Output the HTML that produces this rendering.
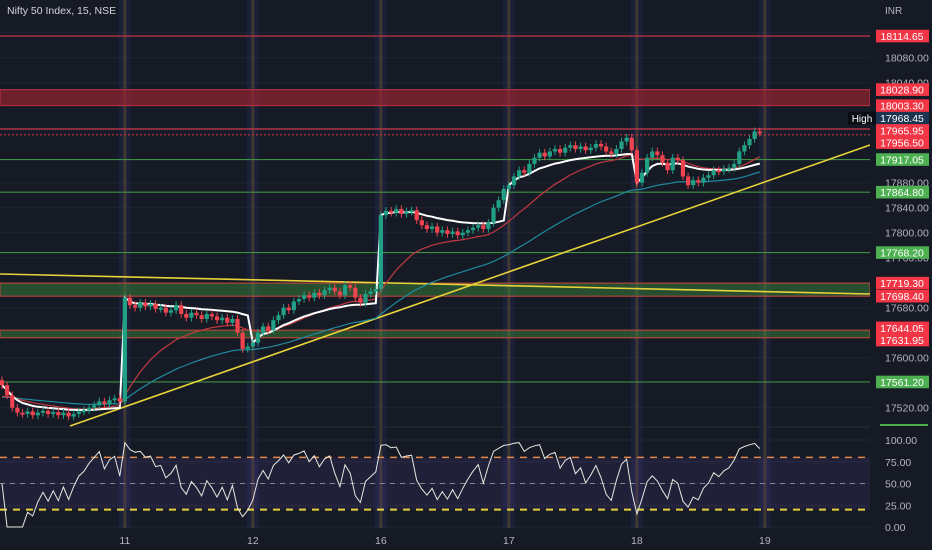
<!DOCTYPE html>
<html><head><meta charset="utf-8">
<style>
html,body{margin:0;padding:0;background:#151924;}
svg{display:block;font-family:"Liberation Sans",sans-serif;}
</style></head>
<body>
<svg id="c" width="932" height="550" viewBox="0 0 932 550"></svg>
<script>
// ---- data ----
const dayLabels = ["11","12","16","17","18","19"];
const dayStartIdx = [24,49,74,99,124,149];
const closes = [
17556,17540,17520,17512,17510,17514,17508,17512,17515,17510,17513,17508,17512,17506,17510,17514,17516,17520,17524,17530,17526,17532,17535,17530,
17696,17684,17680,17688,17682,17686,17678,17680,17672,17676,17684,17670,17664,17672,17668,17662,17670,17666,17660,17664,17656,17662,17640,17614,17618,
17624,17640,17650,17644,17660,17668,17680,17676,17690,17694,17700,17696,17704,17700,17708,17712,17706,17700,17716,17712,17696,17688,17702,17706,17710,
17828,17835,17832,17838,17830,17834,17836,17820,17812,17806,17810,17800,17804,17798,17802,17796,17800,17804,17808,17812,17806,17816,17840,17852,17870,
17876,17890,17900,17896,17910,17920,17928,17922,17930,17934,17928,17936,17940,17934,17938,17932,17936,17942,17938,17930,17926,17934,17946,17952,17932,
17880,17896,17920,17930,17924,17912,17900,17920,17916,17890,17876,17884,17880,17888,17892,17900,17898,17902,17904,17910,17930,17940,17950,17962,17960];
const redLevels = [18114.65,17965.95];
const greenLevels = [17917.05,17864.80,17768.20,17561.20];
const redBand = [18028.90,18003.30];
const greenBands = [[17719.30,17698.40],[17644.05,17631.95]];
const axisTicks = [18080,18040,17880,17840,17800,17760,17680,17600,17520];
const rsiTicks = [100,75,50,25,0];
const tagPrices = [18114.65,18028.90,18003.30,17968.45,17965.95,17956.50,17917.05,17864.80,17768.20,17719.30,17698.40,17644.05,17631.95,17561.20];
const tagKinds  = ["r","r","r","h","r","r","g","g","g","r","r","r","r","g"];

// ---- scales ----
const y = p => 57.7 + (18080 - p) * 0.625;
const x = i => 2 + i * 5.12;
const ry = v => 527 - v * 0.87;
const svg = document.getElementById('c');
const NS = 'http://www.w3.org/2000/svg';
function mk(tag, attrs, parent) {
  const e = document.createElementNS(NS, tag);
  for (const k in attrs) e.setAttribute(k, attrs[k]);
  (parent || svg).appendChild(e);
  return e;
}
mk('rect',{x:0,y:0,width:932,height:550,fill:'#161a25'});
// grid
axisTicks.forEach(t=>{const l=mk('line',{x1:0,x2:870,y1:y(t),y2:y(t),stroke:'#212532'});

});
mk('line',{x1:0,x2:870,y1:y(18120),y2:y(18120),stroke:'#212532'});
rsiTicks.forEach(t=>mk('line',{x1:0,x2:870,y1:ry(t),y2:ry(t),stroke:'#212532'}));
// session dividers
dayStartIdx.forEach(i=>{const xx=x(i);
const b=mk('rect',{x:xx-6,y:0,width:12,height:528,fill:'rgba(35,50,110,0.25)'});


mk('line',{x1:xx,x2:xx,y1:0,y2:528,stroke:'rgba(75,62,50,0.8)','stroke-width':3});});
// bands
const rb=mk('rect',{x:0,y:y(redBand[0]),width:870,height:y(redBand[1])-y(redBand[0]),fill:'rgba(150,35,48,0.7)',stroke:'#c0303f'});


greenBands.forEach(b=>{const r=mk('rect',{x:0,y:y(b[0]),width:870,height:y(b[1])-y(b[0]),fill:'rgba(55,130,55,0.5)',stroke:'#b0453a','stroke-width':1.2});

});
redLevels.forEach(p=>{const l=mk('line',{x1:0,x2:870,y1:y(p),y2:y(p),stroke:'#d0394a','stroke-width':1.2});

});
mk('line',{x1:0,x2:870,y1:y(17956.5),y2:y(17956.5),stroke:'#d0394a','stroke-dasharray':'2 2'});
greenLevels.forEach(p=>{const l=mk('line',{x1:0,x2:870,y1:y(p),y2:y(p),stroke:'#3f8f45','stroke-width':1.2});

});
// trendlines
const t1=mk('line',{x1:0,y1:274,x2:870,y2:294,stroke:'#e8d43a','stroke-width':1.6});


const t2=mk('line',{x1:70,y1:426,x2:870,y2:145,stroke:'#e8d43a','stroke-width':1.6});


// moving averages
function ema(n){let o=[],k=2/(n+1),v=closes[0]-20;closes.forEach(c=>{v=v+k*(c-v);o.push(v);});return o;}
function pathOf(arr,fy){return arr.map((v,i)=>(i?'L':'M')+x(i).toFixed(1)+' '+fy(v).toFixed(1)).join(' ');}
const e1=mk('path',{d:pathOf(ema(50),y),fill:'none',stroke:'#1f8a9e','stroke-width':1.2});


const e2=mk('path',{d:pathOf(ema(20),y),fill:'none',stroke:'#c23a40','stroke-width':1.2});


// session vwap
const vw=[];let s=0,n=0,di=0;
closes.forEach((c,i)=>{if(i===dayStartIdx[di]){s=0;n=0;di++;}s+=c;n++;vw.push(s/n);});
const vwp=mk('path',{d:pathOf(vw,y),fill:'none',stroke:'#ffffff','stroke-width':2});


// candles
closes.forEach((c,i)=>{
  const o=i?closes[i-1]:c+8; const up=c>=o; const col=up?'#22a085':'#ef4350';
  const hi=Math.max(o,c)+6, lo=Math.min(o,c)-6;
  const g=mk('g',{});
  
  
  mk('line',{x1:x(i),x2:x(i),y1:y(hi),y2:y(lo),stroke:col},g);
  const top=y(Math.max(o,c)),h=Math.max(2,y(Math.min(o,c))-top);
  mk('rect',{x:x(i)-2.1,y:top,width:4.2,height:h,fill:col},g);
});
// RSI pane
mk('line',{x1:0,x2:932,y1:427,y2:427,stroke:'#2a2e39'});
mk('rect',{x:0,y:ry(80),width:870,height:ry(20)-ry(80),fill:'rgba(80,60,140,0.2)'});
mk('line',{x1:0,x2:870,y1:ry(80),y2:ry(80),stroke:'#e0884a','stroke-width':1.5,'stroke-dasharray':'7 6'});
mk('line',{x1:0,x2:870,y1:ry(50),y2:ry(50),stroke:'#888','stroke-dasharray':'5 5'});
mk('line',{x1:0,x2:870,y1:ry(20),y2:ry(20),stroke:'#e8d43a','stroke-width':2,'stroke-dasharray':'7 6'});
function rsi(n){let g=0,l=0,o=[50];for(let i=1;i<closes.length;i++){const d=closes[i]-closes[i-1];g=(g*(n-1)+Math.max(d,0))/n;l=(l*(n-1)+Math.max(-d,0))/n;o.push(l===0?100:100-100/(1+g/l));}return o;}
const rp=mk('path',{d:pathOf(rsi(4),ry),fill:'none',stroke:'#e8e8e0','stroke-width':1});


// axis
mk('rect',{x:870,y:0,width:62,height:550,fill:'#161a25'});
mk('line',{x1:880,x2:928,y1:425,y2:425,stroke:'#4caf50','stroke-width':2});
function txt(t,xx,yy,col,size,anchor,name){const e=mk('text',{x:xx,y:yy,fill:col,'font-size':size,'text-anchor':anchor||'start'});e.textContent=t;

return e;}
txt('INR',885,14,'#b2b5be',10,'start','currency-label');
axisTicks.forEach(t=>txt(t.toFixed(2),885,y(t)+4,'#b2b5be',10.5,'start','price-tick'));
rsiTicks.forEach(t=>txt(t.toFixed(2),885,ry(t)+4,'#b2b5be',10.5,'start','rsi-tick'));
// tags: cluster-based collision avoidance (groups centred on their mean)
const GAP=12.2;
let groups=tagPrices.map((p,k)=>({c:y(p),idx:[k]}));
let changed=true;
while(changed){changed=false;
  for(let k=0;k<groups.length-1;k++){
    const a=groups[k],b=groups[k+1];
    const aBot=a.c+(a.idx.length-1)*GAP/2, bTop=b.c-(b.idx.length-1)*GAP/2;
    if(bTop-aBot<GAP){
      const idx=a.idx.concat(b.idx);
      const c=(a.c*a.idx.length+b.c*b.idx.length)/idx.length;
      groups.splice(k,2,{c:c,idx:idx});changed=true;break;}
  }}
const pos=[];
groups.forEach(g=>g.idx.forEach((k,j)=>{pos[k]=g.c-(g.idx.length-1)*GAP/2+j*GAP;}));
tagPrices.forEach((p,k)=>{
  const col=tagKinds[k]==='r'?'#f23645':tagKinds[k]==='g'?'#4caf50':'#1d3550';
  const r=mk('rect',{x:876,y:pos[k]-6.3,width:53,height:12.6,fill:col});
  
  
  txt(p.toFixed(2),902,pos[k]+4,'#fff',10.5,'middle','price-tag-text');
  if(tagKinds[k]==='h'){mk('rect',{x:848,y:pos[k]-6.3,width:28,height:12.6,fill:'#0a0d14'});
  txt('High',862,pos[k]+4,'#fff',10,'middle','high-label');}
});
dayLabels.forEach((d,k)=>txt(d,x(dayStartIdx[k]),544,'#b2b5be',10.5,'middle','x-axis-label'));
txt('Nifty 50 Index, 15, NSE',7,14,'#d1d4dc',10.5,'start','chart-title');
</script>
</body></html>
